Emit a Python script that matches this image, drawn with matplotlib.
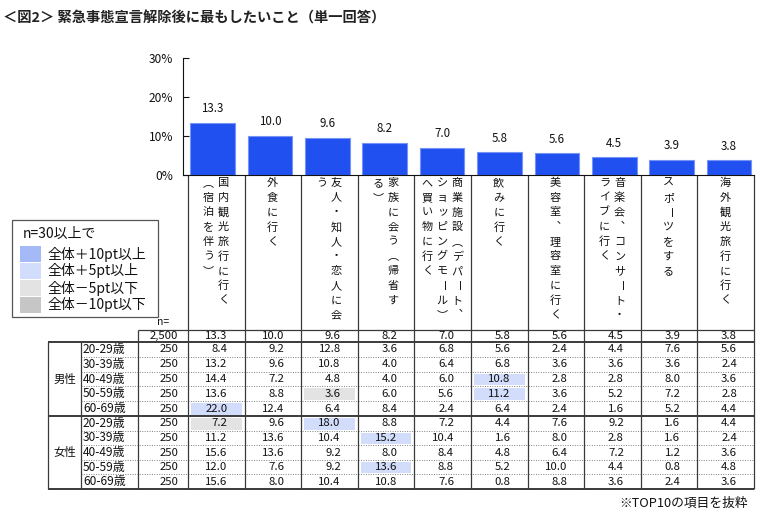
import matplotlib
matplotlib.use('Agg')
import matplotlib.pyplot as plt
from matplotlib.patches import Rectangle
import matplotlib.ticker as mticker

plt.rcParams['font.family'] = ['Noto Sans CJK JP', 'DejaVu Sans']

# ===== DATA =====
title = '＜図2＞ 緊急事態宣言解除後に最もしたいこと（単一回答）'
note = '※TOP10の項目を抜粋'

# one string per vertical text line, read right to left
categories = [
    ['国内観光旅行に行く', '（宿泊を伴う）'],
    ['外食に行く'],
    ['友人・知人・恋人に会', 'う'],
    ['家族に会う（帰省す', 'る）'],
    ['商業施設（デパート、', 'ショッピングモール）', 'へ買い物に行く'],
    ['飲みに行く'],
    ['美容室、理容室に行く'],
    ['音楽会、コンサート・', 'ライブに行く'],
    ['スポーツをする'],
    ['海外観光旅行に行く'],
]
total = [13.3, 10.0, 9.6, 8.2, 7.0, 5.8, 5.6, 4.5, 3.9, 3.8]
n_total = '2,500'

age_groups = ['20-29歳', '30-39歳', '40-49歳', '50-59歳', '60-69歳']
n_male = [250, 250, 250, 250, 250]
n_female = [250, 250, 250, 250, 250]
male = [
    [8.4, 9.2, 12.8, 3.6, 6.8, 5.6, 2.4, 4.4, 7.6, 5.6],
    [13.2, 9.6, 10.8, 4.0, 6.4, 6.8, 3.6, 3.6, 3.6, 2.4],
    [14.4, 7.2, 4.8, 4.0, 6.0, 10.8, 2.8, 2.8, 8.0, 3.6],
    [13.6, 8.8, 3.6, 6.0, 5.6, 11.2, 3.6, 5.2, 7.2, 2.8],
    [22.0, 12.4, 6.4, 8.4, 2.4, 6.4, 2.4, 1.6, 5.2, 4.4],
]
female = [
    [7.2, 9.6, 18.0, 8.8, 7.2, 4.4, 7.6, 9.2, 1.6, 4.4],
    [11.2, 13.6, 10.4, 15.2, 10.4, 1.6, 8.0, 2.8, 1.6, 2.4],
    [15.6, 13.6, 9.2, 8.0, 8.4, 4.8, 6.4, 7.2, 1.2, 3.6],
    [12.0, 7.6, 9.2, 13.6, 8.8, 5.2, 10.0, 4.4, 0.8, 4.8],
    [15.6, 8.0, 10.4, 10.8, 7.6, 0.8, 8.8, 3.6, 2.4, 3.6],
]
# highlighted cells: (group, row, column, level)
highlights = [
    ('男性', 3, 2, '-5'), ('男性', 4, 0, '+5'), ('男性', 2, 5, '+5'), ('男性', 3, 5, '+5'),
    ('女性', 0, 0, '-5'), ('女性', 0, 2, '+5'), ('女性', 1, 3, '+5'), ('女性', 3, 3, '+5'),
]
legend_title = 'n=30以上で'
legend_labels = ['全体＋10pt以上', '全体＋5pt以上', '全体－5pt以下', '全体－10pt以下']
legend_keys = ['+10', '+5', '-5', '-10']

# ===== STYLE =====
BAR_COLOR = '#2150f0'
LEVEL_COLORS = {'+10': '#a5b9f8', '+5': '#d2dcfb', '-5': '#e3e3e3', '-10': '#c6c6c6'}
LINE = '#3a3a3a'
TXT = '#111111'
# vertical-writing forms for some characters
VERT = {'（': '︵', '）': '︶', '、': '︑'}

W, H = 760, 527
fig = plt.figure(figsize=(W / 100, H / 100), dpi=100)
fig.patch.set_facecolor('white')

# overlay axes in pixel coordinates for table and texts
ov = fig.add_axes([0, 0, 1, 1])
ov.set_xlim(0, W)
ov.set_ylim(H, 0)
ov.axis('off')

# layout (pixels)
col_x0, col_w = 188, 56.6
col_edges = [col_x0 + col_w * i for i in range(11)]
x_grp, x_age, x_n = 48, 81, 138
y_axis0, y_label_bottom = 175, 330
y_tot_bottom = 342
y_male_bottom = 416
y_fem_bottom = 489
ncol = len(total)

# ===== BAR CHART =====
bx = fig.add_axes([183 / W, 1 - y_axis0 / H, (754 - 183) / W, (y_axis0 - 58) / H])
bx.set_facecolor('none')
xs = list(range(ncol))
bx.bar(xs, total, width=0.78, color=BAR_COLOR, edgecolor='#7594f5', linewidth=0.8)
for x, v in zip(xs, total):
    bx.annotate(f'{v:.1f}', (x, v), xytext=(0, 5.5), textcoords='offset points',
                ha='center', va='bottom', fontsize=8.3, color=TXT)
bx.set_xlim(-0.514, 9.434)
bx.set_ylim(0, 30)
bx.set_yticks([0, 10, 20, 30])
bx.yaxis.set_major_formatter(mticker.FormatStrFormatter('%d%%'))
bx.tick_params(axis='y', direction='in', length=4, width=0.8, pad=7, labelsize=8.6, colors=TXT)
bx.set_xticks([])
for s in ['top', 'right']:
    bx.spines[s].set_visible(False)
for s in ['left', 'bottom']:
    bx.spines[s].set_color('#111111')
    bx.spines[s].set_linewidth(0.8)

# ===== CATEGORY LABELS (vertical) =====
pitch_y, pitch_x = 14.7, 15
y_first = 183
for i, lines in enumerate(categories):
    cx = col_x0 + col_w * (i + 0.5)
    k = len(lines)
    for j, s in enumerate(lines):
        x = cx + (k - 1) / 2 * pitch_x - j * pitch_x - 0.5
        for m, ch in enumerate(s):
            y = y_first + m * pitch_y
            if ch == 'ー':
                ov.text(x, y, ch, rotation=-90, rotation_mode='anchor', ha='center',
                        va='center', fontsize=8, color=TXT)
            else:
                ov.text(x, y, VERT.get(ch, ch), ha='center', va='center', fontsize=8, color=TXT)

# ===== TABLE =====
def row_centers(top, bottom, n):
    h = (bottom - top) / n
    return [top + h * (r + 0.5) for r in range(n)], h

male_y, male_h = row_centers(y_tot_bottom, y_male_bottom, len(age_groups))
fem_y, fem_h = row_centers(y_male_bottom, y_fem_bottom, len(age_groups))
groups = {'男性': (male_y, male_h, male, n_male), '女性': (fem_y, fem_h, female, n_female)}

# highlight fills
for g, r, c, lvl in highlights:
    ys, h, _, _ = groups[g]
    ov.add_patch(Rectangle((col_edges[c] + 3, ys[r] - h / 2 + 2), col_w - 6, h - 3,
                           facecolor=LEVEL_COLORS[lvl], edgecolor='none', zorder=1))

fs = 8.2
# total row
ty = (y_label_bottom + y_tot_bottom) / 2
ov.text(col_x0 - 10, ty, n_total, ha='right', va='center', fontsize=fs, color=TXT)
for c, v in enumerate(total):
    ov.text(col_edges[c + 1] - 17, ty, f'{v:.1f}', ha='right', va='center', fontsize=fs, color=TXT)
ov.text(163, 322, 'n=', ha='center', va='center', fontsize=7.5, color=TXT)

for g, (ys, h, vals, ns) in groups.items():
    ov.text((x_grp + x_age) / 2, (ys[0] + ys[-1]) / 2, g, ha='center', va='center',
            fontsize=fs, color=TXT)
    for r, yc in enumerate(ys):
        ov.text(x_age + 2, yc, age_groups[r], ha='left', va='center', fontsize=fs + 0.4, color=TXT)
        ov.text(col_x0 - 10, yc, str(ns[r]), ha='right', va='center', fontsize=fs, color=TXT)
        for c, v in enumerate(vals[r]):
            ov.text(col_edges[c + 1] - 17, yc, f'{v:.1f}', ha='right', va='center',
                    fontsize=fs, color=TXT, zorder=3)
        if r > 0:
            ov.hlines(yc - h / 2, x_age, col_edges[-1], colors='#808080', lw=0.7,
                      linestyles=(0, (1, 1.5)), zorder=2)

# table grid
thick, thin = 1.4, 0.9
ov.hlines(y_label_bottom, x_n, col_edges[-1], colors=LINE, lw=thin, zorder=2)
for yy in [y_tot_bottom, y_male_bottom, y_fem_bottom]:
    ov.hlines(yy, x_grp, col_edges[-1], colors=LINE, lw=thick, zorder=2)
ov.vlines([x_grp, x_age], y_tot_bottom, y_fem_bottom, colors=LINE, lw=thin, zorder=2)
ov.vlines(x_n, y_label_bottom, y_fem_bottom, colors=LINE, lw=thin, zorder=2)
ov.vlines(col_edges, y_axis0, y_fem_bottom, colors=LINE, lw=thin, zorder=2)

# ===== LEGEND BOX =====
ov.add_patch(Rectangle((12, 220), 146, 97, facecolor='white', edgecolor='#555555', lw=0.9))
ov.text(23, 234, legend_title, ha='left', va='center', fontsize=10, color=TXT)
for k, (key, lab) in enumerate(zip(legend_keys, legend_labels)):
    y0 = 246 + k * 17
    ov.add_patch(Rectangle((20, y0), 21, 15.5, facecolor=LEVEL_COLORS[key], edgecolor='none'))
    ov.text(48, y0 + 8, lab, ha='left', va='center', fontsize=10, color=TXT)

# ===== TITLE & NOTE =====
ov.text(3, 18, title, ha='left', va='center', fontsize=10.3, fontweight='bold', color='#222222')
ov.text(748, 503, note, ha='right', va='center', fontsize=9.2, color=TXT)

fig.savefig('out.png', dpi=100, facecolor='white')
